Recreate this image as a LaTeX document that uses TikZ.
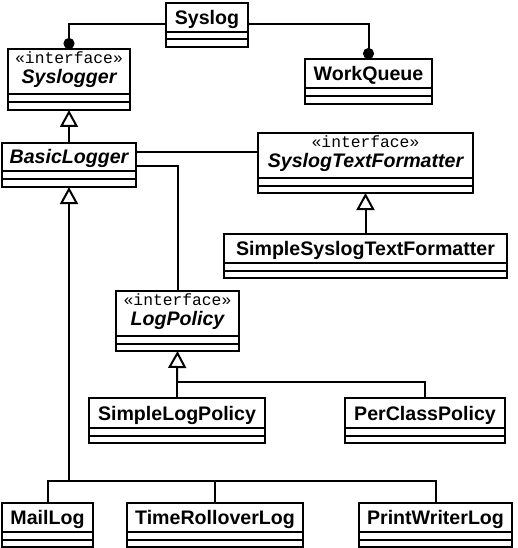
\documentclass[tikz,border=0pt]{standalone}
\usepackage{fontspec}
\setmainfont{Liberation Sans}
\newfontfamily\stereofont{Liberation Mono}
\usetikzlibrary{arrows.meta}
\tikzset{
  classbox/.style={draw, line width=2pt, inner sep=0pt, outer sep=0pt, fill=white},
  compline/.style={line width=2pt},
  nametext/.style={inner sep=0pt, font=\fontsize{19.6}{22}\selectfont\bfseries},
  italname/.style={inner sep=0pt, font=\fontsize{19.6}{22}\selectfont\bfseries\itshape},
  stereotext/.style={inner sep=0pt, font=\fontsize{16.3}{18}\stereofont},
  conn/.style={line width=2pt, line join=miter},
  assoc/.style={conn, -{Circle[length=11pt,width=11pt]}},
  inherit/.style={conn, -{Triangle[fill=white,length=17pt,width=18pt,line join=miter]}},
}
% id, x1, y1, x2, y2, name-bottom, text, style
\newcommand{\umlclass}[8]{%
  \pgfmathsetmacro{\clsW}{#4-#2}%
  \pgfmathsetmacro{\clsH}{#5-#3}%
  \pgfmathsetmacro{\clsMid}{(#6+#5)/2}%
  \pgfmathsetmacro{\clsBase}{(#3+#6)/2+7}%
  \pgfmathsetmacro{\clsX}{(#2+#4)/2}%
  \node[classbox, minimum width=\clsW pt, minimum height=\clsH pt, anchor=north west] (#1) at (#2,#3) {};
  \draw[compline] (#2,#6) -- (#4,#6) (#2,\clsMid) -- (#4,\clsMid);
  \node[#8, anchor=base] (#1-name) at (\clsX,\clsBase) {#7};
}
% interface version: stereotype line + italic name
\newcommand{\umliface}[7]{%
  \pgfmathsetmacro{\clsW}{#4-#2}%
  \pgfmathsetmacro{\clsH}{#5-#3}%
  \pgfmathsetmacro{\clsMid}{(#6+#5)/2}%
  \pgfmathsetmacro{\clsSt}{#3+14.5}%
  \pgfmathsetmacro{\clsBase}{#6-10.5}%
  \pgfmathsetmacro{\clsX}{(#2+#4)/2}%
  \node[classbox, minimum width=\clsW pt, minimum height=\clsH pt, anchor=north west] (#1) at (#2,#3) {};
  \draw[compline] (#2,#6) -- (#4,#6) (#2,\clsMid) -- (#4,\clsMid);
  \node[stereotext, anchor=base] (#1-st) at (\clsX,\clsSt) {«interface»};
  \node[italname, anchor=base] (#1-name) at (\clsX,\clsBase) {#7};
}
\begin{document}
\begin{tikzpicture}[x=1pt,y=-1pt]
\useasboundingbox[fill=white] (0,0) rectangle (517,548);

\umlclass{syslog}{166}{3}{248}{47}{32}{Syslog}{nametext}
\umliface{syslogger}{8}{49}{130}{110}{94}{Syslogger}
\umlclass{workqueue}{305}{59}{432}{104}{88}{WorkQueue}{nametext}
\umlclass{basiclogger}{2}{143}{136}{187}{171}{BasicLogger}{italname}
\umliface{stf}{258}{133}{473}{193}{178}{SyslogTextFormatter}
\umlclass{sstf}{224}{234}{507}{278}{263}{SimpleSyslogTextFormatter}{nametext}
\umliface{logpolicy}{116}{291}{239}{351}{336}{LogPolicy}
\umlclass{slp}{89}{398}{265}{443}{428}{SimpleLogPolicy}{nametext}
\umlclass{pcp}{345}{398}{505}{443}{428}{PerClassPolicy}{nametext}
\umlclass{maillog}{2}{503}{93}{547}{532}{MailLog}{nametext}
\umlclass{trl}{127}{503}{303}{547}{532}{TimeRolloverLog}{nametext}
\umlclass{pwl}{359}{503}{512}{547}{532}{PrintWriterLog}{nametext}

% associations from Syslog
\draw[assoc] ([yshift=1pt]syslog.west) -| (syslogger.north);
\draw[assoc] ([yshift=1pt]syslog.east) -| (workqueue.north);

% BasicLogger implements Syslogger
\draw[inherit] (basiclogger.north) -- (syslogger.south);

% BasicLogger uses SyslogTextFormatter and LogPolicy
\draw[conn] ([yshift=13pt]basiclogger.east) -- ([yshift=13pt]basiclogger.east -| stf.west);
\draw[conn] ([yshift=-1pt]basiclogger.east) -| (logpolicy.north);

% SimpleSyslogTextFormatter implements SyslogTextFormatter
\draw[inherit] (sstf.north) -- (sstf.north |- stf.south);

% policies implement LogPolicy
\path ([yshift=16pt]slp.north) coordinate (jp);
\draw[inherit] (jp) -- (logpolicy.south);
\draw[conn] (slp.north) -- (jp) -| (pcp.north);

% loggers extend BasicLogger
\path ([yshift=22pt]trl.north) coordinate (jy);
\coordinate (jl) at (basiclogger.south |- jy);
\draw[inherit] (jl) -- (basiclogger.south);
\draw[conn] (maillog.north) |- (pwl.north |- jy) -- (pwl.north);
\draw[conn] (trl.north) -- (trl.north |- jy);
\end{tikzpicture}
\end{document}
